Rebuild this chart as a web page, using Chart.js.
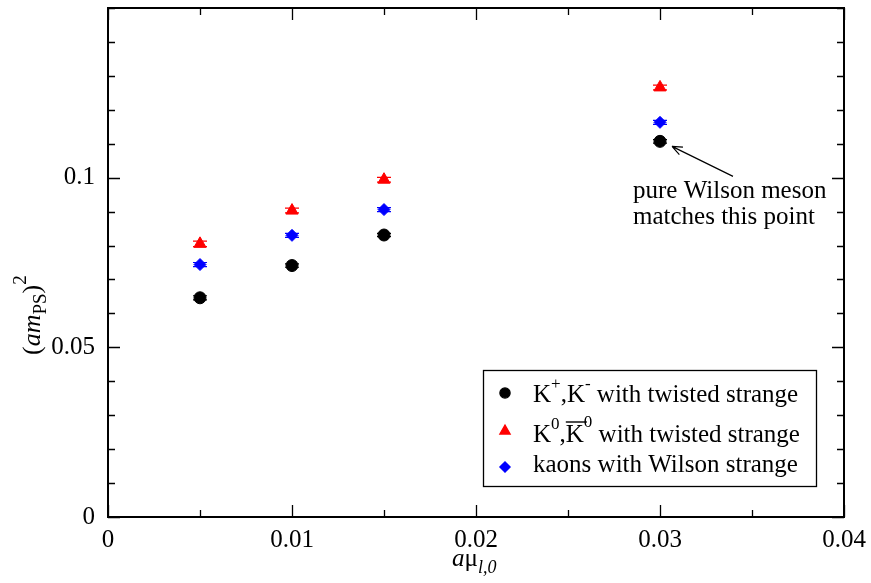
<!DOCTYPE html>
<html>
<head>
<meta charset="utf-8">
<script src="https://cdn.jsdelivr.net/npm/chart.js@4.4.0/dist/chart.umd.min.js"></script>
<style>
  html, body { margin: 0; padding: 0; background: #fff; }
  #wrap { width: 871px; height: 583px; }
</style>
</head>
<body>
<div id="wrap"><canvas id="chart"></canvas></div>
<script>
// light quark mass a*mu_l,0
const muValues = [0.005, 0.01, 0.015, 0.03];

// (a m_PS)^2 for each kaon type
const kChargedY   = [0.0646, 0.0741, 0.0831, 0.1107];
const kChargedErr = [0.0006, 0.0005, 0.0005, 0.0005];
const kNeutralY   = [0.0805, 0.0903, 0.0994, 0.1266];
const kNeutralErr = [0.0008, 0.0007, 0.0007, 0.0007];
const kWilsonY    = [0.0744, 0.0830, 0.0906, 0.1163];
const kWilsonErr  = [0.0006, 0.0006, 0.0006, 0.0006];

const xTickLabels = ['0', '0.01', '0.02', '0.03', '0.04'];
const yTickLabels = ['0', '0.05', '0.1'];

const serif = '"Liberation Serif", "DejaVu Serif", serif';

function labelFor(list, v) {
  const hit = list.find(l => Math.abs(Number(l) - v) < 1e-9);
  return hit === undefined ? '' : hit;
}

function toPoints(ys) {
  return muValues.map((x, i) => ({ x: x, y: ys[i] }));
}

// draw a list of text pieces one after the other
function drawRuns(ctx, x, y, runs) {
  runs.forEach(r => {
    ctx.font = r.font;
    ctx.fillText(r.t, x, y + (r.dy || 0));
    x += ctx.measureText(r.t).width;
  });
  return x;
}

const errs = [kChargedErr, kNeutralErr, kWilsonErr];

const decorPlugin = {
  id: 'decor',
  beforeDatasetsDraw(chart) {
    const ctx = chart.ctx, xs = chart.scales.x, ys = chart.scales.y;
    ctx.save();
    chart.data.datasets.forEach((ds, i) => {
      ctx.strokeStyle = ds.backgroundColor;
      ctx.lineWidth = 1.2;
      ds.data.forEach((p, j) => {
        const px = xs.getPixelForValue(p.x);
        const y1 = ys.getPixelForValue(p.y + errs[i][j]);
        const y2 = ys.getPixelForValue(p.y - errs[i][j]);
        ctx.beginPath();
        ctx.moveTo(px, y1); ctx.lineTo(px, y2);
        ctx.moveTo(px - 7, y1); ctx.lineTo(px + 7, y1);
        ctx.moveTo(px - 7, y2); ctx.lineTo(px + 7, y2);
        ctx.stroke();
      });
    });
    ctx.restore();
  },
  afterDraw(chart) {
    const ctx = chart.ctx, xs = chart.scales.x, ys = chart.scales.y;
    const { left, right, top, bottom } = chart.chartArea;
    ctx.save();
    ctx.strokeStyle = '#000';
    ctx.fillStyle = '#000';

    // frame
    ctx.lineWidth = 2;
    ctx.strokeRect(left, top, right - left, bottom - top);

    // inward ticks on all four sides
    ctx.lineWidth = 1.3;
    ctx.beginPath();
    xs.ticks.forEach(t => {
      const px = Math.round(xs.getPixelForValue(t.value)) + 0.5;
      const len = labelFor(xTickLabels, t.value) ? 12 : 7;
      ctx.moveTo(px, bottom); ctx.lineTo(px, bottom - len);
      ctx.moveTo(px, top); ctx.lineTo(px, top + len);
    });
    ys.ticks.forEach(t => {
      const py = Math.round(ys.getPixelForValue(t.value)) + 0.5;
      const len = labelFor(yTickLabels, t.value) ? 12 : 7;
      ctx.moveTo(left, py); ctx.lineTo(left + len, py);
      ctx.moveTo(right, py); ctx.lineTo(right - len, py);
    });
    ctx.stroke();

    // x axis title: a mu_{l,0}
    ctx.textBaseline = 'alphabetic';
    ctx.textAlign = 'left';
    let tx = (left + right) / 2 - 24;
    drawRuns(ctx, tx, 566, [
      { t: 'a', font: 'italic 25px ' + serif },
      { t: 'μ', font: '25px ' + serif },
      { t: 'l,0', font: 'italic 18px ' + serif, dy: 7 }
    ]);

    // y axis title: (a m_PS)^2
    ctx.save();
    ctx.translate(40, 355);
    ctx.rotate(-Math.PI / 2);
    drawRuns(ctx, 0, 0, [
      { t: '(', font: '26px ' + serif },
      { t: 'am', font: 'italic 26px ' + serif },
      { t: 'PS', font: '19px ' + serif, dy: 6 },
      { t: ')', font: '26px ' + serif },
      { t: '2', font: '19px ' + serif, dy: -14 }
    ]);
    ctx.restore();

    // annotation next to the last charged-kaon point
    const last = muValues.length - 1;
    const ax = xs.getPixelForValue(muValues[last]);
    const ay = ys.getPixelForValue(kChargedY[last]);
    const tipX = ax + 12, tipY = ay + 5, tailX = ax + 73, tailY = ay + 35;
    ctx.lineWidth = 1.2;
    ctx.beginPath();
    ctx.moveTo(tailX, tailY); ctx.lineTo(tipX, tipY);
    const ang = Math.atan2(tipY - tailY, tipX - tailX);
    ctx.moveTo(tipX, tipY);
    ctx.lineTo(tipX - 11 * Math.cos(ang - 0.38), tipY - 11 * Math.sin(ang - 0.38));
    ctx.moveTo(tipX, tipY);
    ctx.lineTo(tipX - 11 * Math.cos(ang + 0.38), tipY - 11 * Math.sin(ang + 0.38));
    ctx.stroke();
    ctx.font = '25px ' + serif;
    ctx.fillText('pure Wilson meson', ax - 27, ay + 57);
    ctx.fillText('matches this point', ax - 27, ay + 83);

    // legend box
    const bx = right - 361, by = bottom - 147, bw = 333, bh = 116;
    ctx.fillStyle = '#fff';
    ctx.fillRect(bx, by, bw, bh);
    ctx.lineWidth = 1.3;
    ctx.strokeStyle = '#000';
    ctx.strokeRect(bx + 0.5, by + 0.5, bw, bh);

    const symX = bx + 22, textX = bx + 50;
    const rows = [
      { ds: 0, sy: by + 23, base: by + 32 },
      { ds: 1, sy: by + 61, base: by + 72 },
      { ds: 2, sy: by + 97, base: by + 102 }
    ];
    rows.forEach(r => {
      const ds = chart.data.datasets[r.ds];
      ctx.fillStyle = ds.backgroundColor;
      ctx.strokeStyle = ds.backgroundColor;
      Chart.helpers.drawPoint(ctx, {
        pointStyle: ds.pointStyle, radius: ds.pointRadius * 0.85, rotation: 0, borderWidth: 1
      }, symX, r.sy);
    });
    ctx.fillStyle = '#000';
    ctx.strokeStyle = '#000';
    const f = '25px ' + serif, fs = '17px ' + serif;
    drawRuns(ctx, textX, rows[0].base, [
      { t: 'K', font: f }, { t: '+', font: fs, dy: -13 },
      { t: ',K', font: f }, { t: '-', font: fs, dy: -13 },
      { t: ' with twisted strange', font: f }
    ]);
    let x2 = drawRuns(ctx, textX, rows[1].base, [
      { t: 'K', font: f }, { t: '0', font: fs, dy: -13 }, { t: ',', font: f }
    ]);
    const kStart = x2;
    x2 = drawRuns(ctx, x2, rows[1].base, [{ t: 'K', font: f }]);
    ctx.lineWidth = 1.4;
    ctx.beginPath();
    ctx.moveTo(kStart, rows[1].base - 20); ctx.lineTo(x2 + 3, rows[1].base - 20);
    ctx.stroke();
    drawRuns(ctx, x2, rows[1].base, [
      { t: '0', font: fs, dy: -15 }, { t: ' with twisted strange', font: f }
    ]);
    ctx.font = f;
    ctx.fillText('kaons with Wilson strange', textX, rows[2].base);

    ctx.restore();
  }
};

const ctx = document.getElementById('chart').getContext('2d');
new Chart(ctx, {
  type: 'scatter',
  data: {
    datasets: [
      { label: 'K+,K- with twisted strange', data: toPoints(kChargedY),
        pointStyle: 'circle', pointRadius: 6, backgroundColor: '#000000', borderColor: '#000000', borderWidth: 1 },
      { label: 'K0,K0bar with twisted strange', data: toPoints(kNeutralY),
        pointStyle: 'triangle', pointRadius: 7, backgroundColor: '#ff0000', borderColor: '#ff0000', borderWidth: 1 },
      { label: 'kaons with Wilson strange', data: toPoints(kWilsonY),
        pointStyle: 'rectRot', pointRadius: 6, backgroundColor: '#0000ff', borderColor: '#0000ff', borderWidth: 1 }
    ]
  },
  options: {
    responsive: true,
    maintainAspectRatio: false,
    animation: false,
    layout: { padding: { left: 0, top: 4, right: 27, bottom: 0 } },
    plugins: { legend: { display: false }, tooltip: { enabled: false } },
    scales: {
      x: {
        type: 'linear', min: 0, max: 0.04,
        afterFit: s => { s.height = 66; },
        grid: { display: false }, border: { display: false },
        ticks: {
          stepSize: 0.005, autoSkip: false, maxRotation: 0, padding: 0, color: '#000',
          font: { family: serif, size: 25 },
          callback: v => labelFor(xTickLabels, v)
        }
      },
      y: {
        type: 'linear', min: 0, max: 0.15,
        afterFit: s => { s.width = 108; s.paddingTop = 0; s.paddingBottom = 0; },
        grid: { display: false }, border: { display: false },
        ticks: {
          stepSize: 0.01, autoSkip: false, padding: 5, color: '#000',
          font: { family: serif, size: 25, lineHeight: 0.4 },
          callback: v => labelFor(yTickLabels, v)
        }
      }
    }
  },
  plugins: [decorPlugin]
});
</script>
</body>
</html>
